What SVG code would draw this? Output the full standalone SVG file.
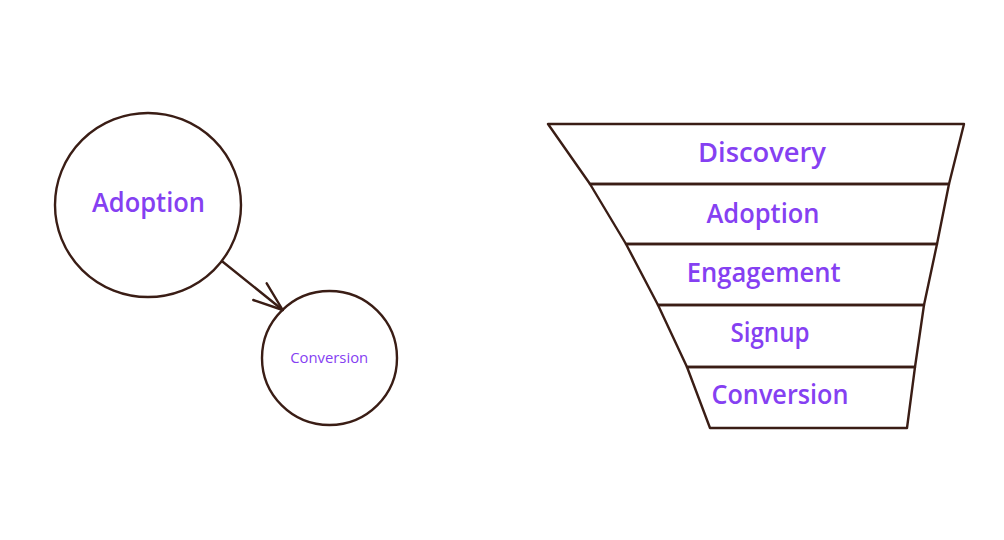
<svg xmlns="http://www.w3.org/2000/svg" width="1004" height="540" viewBox="0 0 1004 540">
<style>
.sh{fill:none;stroke:#3a1d15;stroke-width:2.4;stroke-linejoin:round;stroke-linecap:round}
.t{fill:#8540f2;font-family:"Open Sans","Liberation Sans",sans-serif;font-weight:600;text-anchor:middle}
.big{font-size:27px}
.sm{font-size:15px;font-weight:400}
</style>
<rect width="1004" height="540" fill="#ffffff"/>
<g id="node-adoption-circle">
<ellipse class="sh" cx="148" cy="205" rx="93" ry="92"/>
<text class="t big" x="148.5" y="212" textLength="113" lengthAdjust="spacingAndGlyphs">Adoption</text>
</g>
<g id="node-conversion-circle">
<ellipse class="sh" cx="329.5" cy="358" rx="67.5" ry="67"/>
<text class="t sm" x="329.2" y="363" textLength="78" lengthAdjust="spacingAndGlyphs">Conversion</text>
</g>
<g id="connectors">
<path class="sh" d="M222.7 261.7 L282.7 310"/>
<path class="sh" d="M266.7 283.3 L282.7 310 L253.3 300"/>
</g>
<g id="funnel-discovery">
<path class="sh" d="M548 124 L964 124 L949 184 L590 184 Z"/>
<text class="t big" x="762" y="161.5" textLength="128" lengthAdjust="spacingAndGlyphs">Discovery</text>
</g>
<g id="funnel-adoption">
<path class="sh" d="M590 184 L949 184 L937 244 L626 244 Z"/>
<text class="t big" x="763" y="222.5" textLength="113" lengthAdjust="spacingAndGlyphs">Adoption</text>
</g>
<g id="funnel-engagement">
<path class="sh" d="M626 244 L937 244 L924 305 L658 305 Z"/>
<text class="t big" x="763.7" y="281.5" textLength="154" lengthAdjust="spacingAndGlyphs">Engagement</text>
</g>
<g id="funnel-signup">
<path class="sh" d="M658 305 L924 305 L915 367 L687 367 Z"/>
<text class="t big" x="770" y="341.5" textLength="79" lengthAdjust="spacingAndGlyphs">Signup</text>
</g>
<g id="funnel-conversion">
<path class="sh" d="M687 367 L915 367 L907 428 L710 428 Z"/>
<text class="t big" x="780" y="403.5" textLength="137" lengthAdjust="spacingAndGlyphs">Conversion</text>
</g>
</svg>
